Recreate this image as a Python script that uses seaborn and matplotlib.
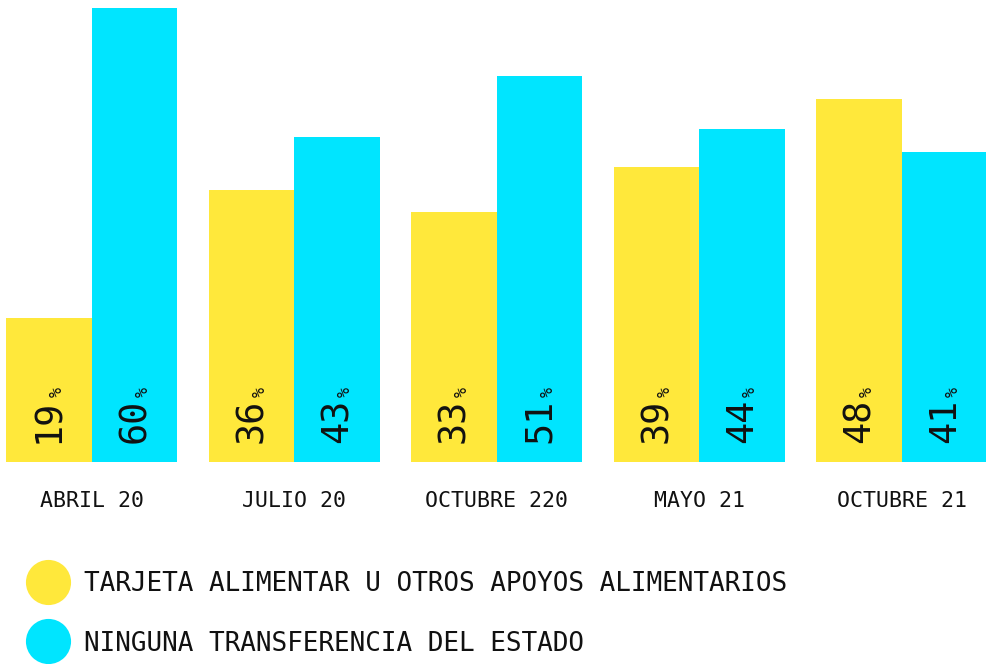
import matplotlib
matplotlib.use("Agg")
import matplotlib.pyplot as plt
import seaborn as sns
import pandas as pd
from matplotlib.lines import Line2D

periods = ["ABRIL 20", "JULIO 20", "OCTUBRE 220", "MAYO 21", "OCTUBRE 21"]
series_names = ["TARJETA ALIMENTAR U OTROS APOYOS ALIMENTARIOS",
                "NINGUNA TRANSFERENCIA DEL ESTADO"]
tarjeta = [19, 36, 33, 39, 48]
ninguna = [60, 43, 51, 44, 41]
colors = ["#FFE83B", "#00E5FF"]

df = pd.DataFrame({
    "period": periods * 2,
    "series": [series_names[0]] * len(periods) + [series_names[1]] * len(periods),
    "value": tarjeta + ninguna,
})

sns.set_theme(style="white")
FONT = ["DejaVu Sans Mono", "DejaVu Sans"]
plt.rcParams["font.family"] = FONT

fig = plt.figure(figsize=(9.87, 6.64), dpi=100)
ax = fig.add_axes([0, 202 / 664, 1, 454 / 664])

sns.barplot(data=df, x="period", y="value", hue="series", order=periods,
            hue_order=series_names, palette=colors, width=0.845, gap=0,
            saturation=1, linewidth=0, legend=False, ax=ax)

ax.set_xlim(-0.452, 4.42)
ax.set_ylim(0, 60)
ax.set_xlabel("")
ax.set_ylabel("")
ax.set_yticks([])
ax.tick_params(axis="x", length=0, pad=21, labelsize=15.5, labelcolor="#111111")
for s in ax.spines.values():
    s.set_visible(False)
ax.patch.set_alpha(0)

for cont in ax.containers:
    for bar, v in zip(cont, cont.datavalues):
        t = ax.annotate(f"{v:g}", xy=(bar.get_x() + bar.get_width() / 2, 0),
                        xytext=(0, 14), textcoords="offset points",
                        rotation=90, ha="center", va="bottom",
                        fontsize=26.5, color="#111111")
        ax.annotate("%", xy=(1, 1), xycoords=t, xytext=(-1, 1),
                    textcoords="offset points", rotation=90,
                    ha="right", va="bottom", fontsize=12, color="#111111")

handles = [Line2D([], [], marker="o", linestyle="", markersize=32.5,
                  markerfacecolor=c, markeredgewidth=0) for c in colors]
fig.legend(handles, series_names, loc="upper left",
           bbox_to_anchor=(32 / 987, 1 - 571 / 664), bbox_transform=fig.transFigure,
           frameon=False, fontsize=18.7, borderpad=0, borderaxespad=0,
           handlelength=1.2, handletextpad=0.8, labelspacing=1.29,
           labelcolor="#111111")

fig.savefig("out.png", dpi=100)
